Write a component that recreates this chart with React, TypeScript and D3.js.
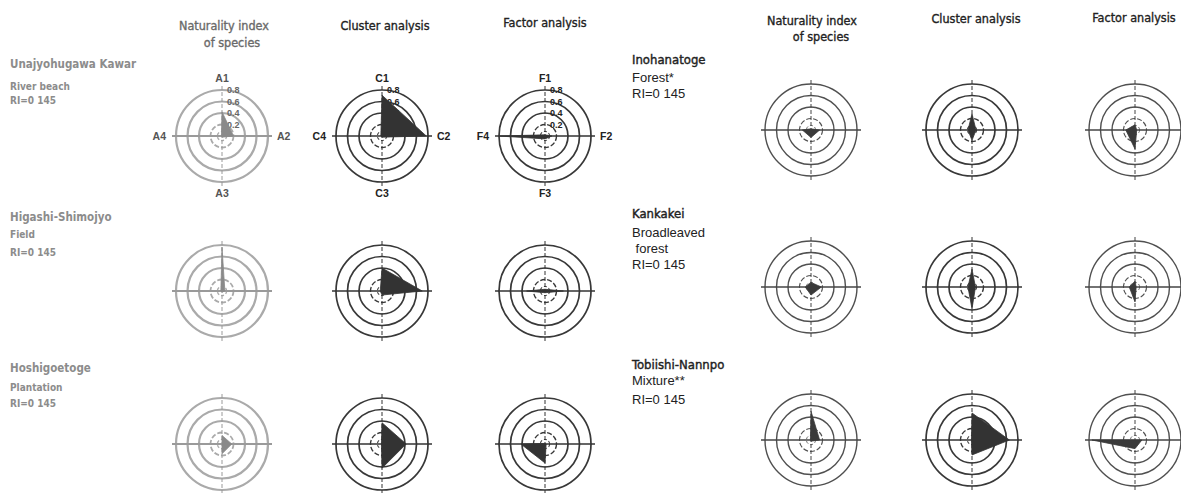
import React from 'react';
import * as d3 from 'd3';

// Column headings and axis-name prefixes for the three analyses
const headerLines: string[][] = [['Naturality index', 'of species'], ['Cluster analysis'], ['Factor analysis']];
const axisPrefixes = ['A', 'C', 'F'];
const ringValues = [0.8, 0.6, 0.4, 0.2];
const tickLabels = ['0.8', '0.6', '0.4', '0.2'];

// Site descriptions (name, vegetation, index)
const leftSites: string[][] = [
  ['Unajyohugawa Kawar', 'River beach', 'RI=0 145'],
  ['Higashi-Shimojyo', 'Field', 'RI=0 145'],
  ['Hoshigoetoge', 'Plantation', 'RI=0 145'],
];
const rightSites: string[][] = [
  ['Inohanatoge', 'Forest*', 'RI=0 145'],
  ['Kankakei', 'Broadleaved', ' forest', 'RI=0 145'],
  ['Tobiishi-Nannpo', 'Mixture**', 'RI=0 145'],
];

// Values on the four axes: [1 (top), 2 (right), 3 (bottom), 4 (left)]
const leftNaturality = [[0.42, 0.2, 0.02, 0.01], [0.76, 0.05, 0.02, 0.02], [0.15, 0.17, 0.17, 0.0]];
const leftCluster = [[0.71, 0.77, 0.02, 0.02], [0.4, 0.7, 0.07, 0.03], [0.37, 0.42, 0.42, 0.01]];
const leftFactor = [[0.02, 0.12, 0.05, 0.8], [0.03, 0.32, 0.03, 0.32], [0.01, 0.02, 0.33, 0.42]];
const rightNaturality = [[0.02, 0.15, 0.13, 0.15], [0.08, 0.18, 0.14, 0.1], [0.5, 0.15, 0.02, 0.01]];
const rightCluster = [[0.28, 0.07, 0.18, 0.07], [0.31, 0.06, 0.38, 0.07], [0.47, 0.65, 0.26, 0.01]];
const rightFactor = [[0.09, 0.03, 0.33, 0.16], [0.1, 0.02, 0.26, 0.1], [0.0, 0.12, 0.15, 0.75]];

const R = 46;
const rScale = d3.scaleLinear().domain([0, 0.8]).range([0, R]);
const angleOf = (i: number) => (i * Math.PI) / 2;

const COND = "'DejaVu Sans Condensed', 'DejaVu Sans', sans-serif";
const SANS = "'Liberation Sans', Arial, sans-serif";

type Tone = { ring: string; ringW: number; axis: string; fill: string };
const faded: Tone = { ring: '#aaaaaa', ringW: 2.2, axis: '#9a9a9a', fill: '#8a8a8a' };
const dark: Tone = { ring: '#383838', ringW: 1.7, axis: '#333', fill: '#333333' };
const medium: Tone = { ring: '#505050', ringW: 1.4, axis: '#444', fill: '#3a3a3a' };

function Radar({ cx, cy, values, tone, labelled, prefix }: {
  cx: number; cy: number; values: number[]; tone: Tone; labelled: boolean; prefix: string;
}) {
  const line = d3
    .lineRadial<number>()
    .angle((_, i) => angleOf(i))
    .radius((d) => rScale(d))
    .curve(d3.curveLinearClosed);
  const ext = R + 4;
  return (
    <g transform={`translate(${cx},${cy})`}>
      {ringValues.map((v, i) => (
        <circle key={v} r={rScale(v)} fill="none" stroke={tone.ring}
          strokeWidth={i < 3 ? tone.ringW : tone.ringW * 0.8}
          strokeDasharray={i === 3 ? '5 2' : undefined} />
      ))}
      <circle r={rScale(0.08)} fill="none" stroke={tone.ring} strokeWidth={tone.ringW * 0.6} strokeDasharray="3 2" />
      <line x1={-ext} x2={ext} y1={0} y2={0} stroke={tone.axis} strokeWidth={tone.ringW} />
      <line x1={0} x2={0} y1={-ext} y2={ext} stroke={tone.axis} strokeWidth={1} strokeDasharray="4 2" />
      {labelled &&
        ringValues.map((v, i) => (
          <text key={v} x={5} y={-rScale(v)} dy="0.35em" fontSize={9} fontWeight="bold"
            fontFamily={SANS} fill={tone === faded ? '#666' : '#222'}>
            {tickLabels[i]}
          </text>
        ))}
      <path d={line(values) || ''} fill={tone.fill} stroke={tone.fill} strokeWidth={0.8} strokeLinejoin="round" />
      {labelled && (
        <g fontFamily={SANS} fontSize={10.5} fontWeight="bold" fill={tone === faded ? '#555' : '#222'}>
          <text x={0} y={-R - 8} textAnchor="middle">{prefix}1</text>
          <text x={R + 9} y={4} textAnchor="start">{prefix}2</text>
          <text x={0} y={R + 15} textAnchor="middle">{prefix}3</text>
          <text x={-R - 10} y={4} textAnchor="end">{prefix}4</text>
        </g>
      )}
    </g>
  );
}

export default function App() {
  const leftCols = [222, 382, 545];
  const rightCols = [811, 972, 1135];
  const leftRows = [136, 291, 444];
  const rightRows = [130, 287, 440];
  const leftData = [leftNaturality, leftCluster, leftFactor];
  const rightData = [rightNaturality, rightCluster, rightFactor];
  const leftTones = [faded, dark, dark];
  const rightTones = [medium, dark, medium];

  return (
    <svg width={1181} height={493} style={{ position: 'absolute', left: 0, top: 0, background: '#fff' }}>
      {/* column headings */}
      <g fontFamily={COND} fontSize={12.5} textAnchor="middle" fill="#222" stroke="#222" strokeWidth={0.35}>
        <text x={224} y={30} fill="#6a6a6a" stroke="#6a6a6a">{headerLines[0][0]}</text>
        <text x={232} y={47} fill="#6a6a6a" stroke="#6a6a6a">{headerLines[0][1]}</text>
        <text x={385} y={30}>{headerLines[1][0]}</text>
        <text x={545} y={27}>{headerLines[2][0]}</text>
        <text x={812} y={25}>{headerLines[0][0]}</text>
        <text x={821} y={41}>{headerLines[0][1]}</text>
        <text x={976} y={23}>{headerLines[1][0]}</text>
        <text x={1134} y={22}>{headerLines[2][0]}</text>
      </g>

      {/* left site descriptions */}
      {leftSites.map((lines, r) => {
        const base = [68, 221, 372][r];
        const gaps = [[0, 22, 36], [0, 17, 35], [0, 19, 35]][r];
        return (
          <g key={r} fontFamily={COND} fill="#8c8c8c" fontWeight="bold">
            {lines.map((t, k) => (
              <text key={k} x={10} y={base + gaps[k]} fontSize={k === 0 ? 11.5 : 10}>{t}</text>
            ))}
          </g>
        );
      })}

      {/* right site descriptions */}
      {rightSites.map((lines, r) => {
        const ys = [[64, 82, 98], [218, 237, 253, 269], [369, 385, 404]][r];
        return (
          <g key={r} fill="#222">
            {lines.map((t, k) => (
              <text key={k} x={632} y={ys[k]} xmlSpace="preserve"
                fontFamily={k === 0 ? COND : SANS}
                stroke={k === 0 ? '#222' : 'none'} strokeWidth={0.4}
                fontSize={k === 0 ? 13 : 13}>{t}</text>
            ))}
          </g>
        );
      })}

      {leftData.map((col, c) =>
        col.map((vals, r) => (
          <Radar key={`l${c}${r}`} cx={leftCols[c]} cy={leftRows[r]} values={vals}
            tone={leftTones[c]} labelled={r === 0} prefix={axisPrefixes[c]} />
        ))
      )}
      {rightData.map((col, c) =>
        col.map((vals, r) => (
          <Radar key={`r${c}${r}`} cx={rightCols[c]} cy={rightRows[r]} values={vals}
            tone={rightTones[c]} labelled={false} prefix={axisPrefixes[c]} />
        ))
      )}
    </svg>
  );
}
